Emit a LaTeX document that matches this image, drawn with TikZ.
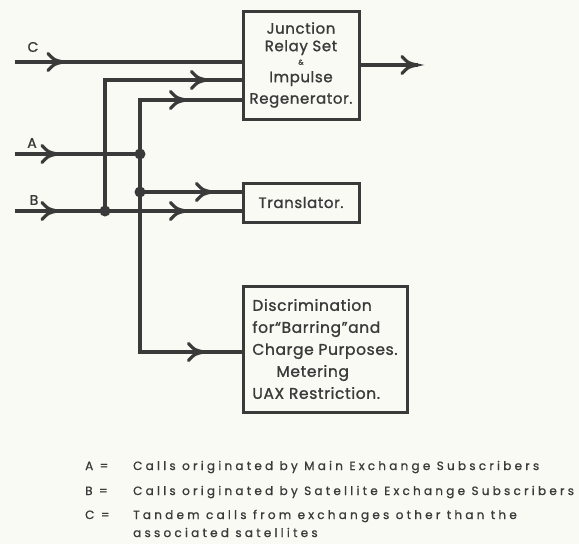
\documentclass[tikz,border=0pt]{standalone}
\usepackage{fontspec}
\setmainfont{Poppins}
\newfontfamily\blkfont[FakeBold=1.2,LetterSpace=4]{Poppins}
\newfontfamily\legfont[FakeBold=1,LetterSpace=27]{Poppins}
\usetikzlibrary{decorations.markings}
\definecolor{ink}{HTML}{3A3A3A}
\definecolor{paper}{HTML}{FAFAF4}
\tikzset{
  wire/.style={draw=ink,line width=4pt,line join=miter},
  arrat/.style={postaction={decorate,decoration={markings,
     mark=at position #1 with {\draw[ink,line width=3.2pt,line cap=round]
       (-15pt,-8.5pt) .. controls (-9pt,-2pt) .. (0pt,0pt) .. controls (-9pt,2pt) .. (-15pt,8.5pt);}}}},
  blk/.style={draw=ink,line width=3pt,fill=paper,inner sep=0pt,text=ink,
     font=\blkfont\fontsize{15}{17.5}\selectfont},
  dot/.style={circle,fill=ink,inner sep=0pt,minimum size=11pt},
  lbl/.style={text=ink,font=\blkfont\fontsize{14}{16}\selectfont},
  leg/.style={text=ink,anchor=base west,inner sep=0pt,font=\legfont\fontsize{12}{14}\selectfont}
}
\begin{document}
\begin{tikzpicture}[x=1pt,y=-1pt]
\fill[paper] (0,0) rectangle (579,544);
\useasboundingbox (0,0) rectangle (579,544);
% blocks
\node[blk,minimum width=116pt,minimum height=108pt,align=center] (junc) at (301,65)
  {Junction\\Relay Set\\[-4pt]{\fontsize{7}{7}\selectfont\&}\\[0pt]Impulse\\[4pt]Regenerator.};
\node[blk,minimum width=116pt,minimum height=39pt] (trans) at (301,202.5) {Translator.};
\node[blk,minimum width=164pt,minimum height=126pt,align=left,font=\blkfont\fontsize{15.5}{22}\selectfont] (disc) at (325,349)
  {Discrimination\\for“Barring”and\\Charge Purposes.\\\hspace*{24pt}Metering\\UAX Restriction.};
% coordinates
\coordinate (cS) at (15,62);
\coordinate (aS) at (15,154);
\coordinate (bS) at (15,211);
\coordinate (t1) at (105,80);
\coordinate (t2) at (140,100);
\coordinate (bot) at (140,352);
\coordinate (outE) at (418,65);
\node[dot] (dB) at (105,211) {};
\node[dot] (dA) at (140,154) {};
\node[dot] (dT) at (140,192) {};
% wires
\draw[wire,arrat=48pt] (cS) -- (cS -| junc.west);
\draw[wire,arrat=-35pt] (dB.center) -- (t1) -- (t1 -| junc.west);
\draw[wire,arrat=-56pt] (bot) -- (t2) -- (t2 -| junc.west);
\draw[wire,arrat=-38pt] (t2) -- (bot) -- (bot -| disc.west);
\draw[wire,arrat=42pt] (aS) -- (dA.center);
\draw[wire,arrat=42pt,arrat=-56pt] (bS) -- (bS -| trans.west);
\draw[wire,arrat=-30pt] (dT.center) -- (dT.center -| trans.west);
\draw[wire,arrat=-1pt] (junc.east |- outE) -- (outE);
% input labels
\node[lbl] (lC) at (33,47) {C};
\node[lbl] (lA) at (32,143) {A};
\node[lbl] (lB) at (34,200) {B};
% legend
\node[leg] (k1) at (85,470) {A =};
\node[leg] (v1) at (133,470) {Calls originated by Main Exchange Subscribers};
\node[leg] (k2) at (85,495) {B =};
\node[leg] (v2) at (133,495) {Calls originated by Satellite Exchange Subscribers};
\node[leg] (k3) at (85,519) {C =};
\node[leg] (v3) at (133,519) {Tandem calls from exchanges other than the};
\node[leg] (v4) at (133,537) {associated satellites};
\end{tikzpicture}
\end{document}
